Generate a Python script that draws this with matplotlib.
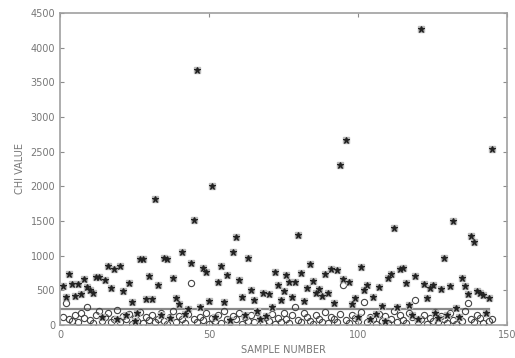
import matplotlib.pyplot as plt

# chi value per sample, statistic 1 (star markers)
star_x = list(range(1, 146))
star_y = [560, 409, 731, 587, 418, 587, 447, 659, 553, 505,
          457, 697, 697, 120, 649, 856, 539, 808, 90, 856,
          491, 150, 601, 337, 60, 180, 948, 948, 375, 707,
          375, 1818, 577, 140, 962, 950, 100, 674, 395, 298,
          1058, 160, 230, 890, 1515, 3680, 264, 827, 769, 346,
          2001, 110, 616, 851, 337, 721, 70, 1058, 1274, 649,
          409, 150, 962, 505, 361, 200, 90, 457, 130, 443,
          264, 769, 577, 361, 491, 721, 625, 409, 616, 1299,
          755, 346, 539, 875, 635, 457, 519, 423, 740, 457,
          808, 322, 798, 2309, 664, 2665, 625, 298, 395, 120,
          837, 505, 577, 80, 409, 160, 553, 274, 60, 674,
          731, 1404, 264, 804, 817, 601, 289, 140, 712, 90,
          4270, 587, 395, 529, 577, 180, 100, 519, 971, 150,
          567, 1505, 241, 110, 674, 567, 443, 1284, 1202, 491,
          457, 433, 180, 385, 2544]

# statistic 2 (open circles)
circ_x = list(range(1, 146))
circ_y = [120, 317, 90, 60, 150, 40, 180, 100, 264, 70,
          30, 140, 200, 60, 110, 170, 50, 90, 216, 40,
          130, 80, 160, 20, 100, 60, 190, 30, 120, 70,
          150, 40, 90, 170, 60, 20, 110, 200, 50, 130,
          80, 30, 160, 601, 90, 40, 120, 70, 180, 20,
          100, 60, 150, 30, 200, 80, 40, 130, 90, 170,
          20, 110, 60, 140, 40, 190, 80, 30, 120, 60,
          160, 20, 100, 50, 180, 90, 30, 140, 264, 70,
          40, 170, 110, 60, 20, 150, 90, 40, 190, 30,
          120, 80, 50, 160, 577, 70, 30, 140, 100, 60,
          190, 327, 40, 110, 80, 20, 160, 60, 130, 30,
          90, 200, 50, 140, 70, 30, 170, 110, 361, 40,
          80, 150, 20, 100, 60, 190, 40, 130, 90, 30,
          170, 70, 20, 120, 60, 200, 313, 80, 40, 150,
          100, 30, 180, 60, 90]

threshold = 230

gray = '#8c8c8c'
plt.rcParams['font.family'] = 'DejaVu Sans'

fig = plt.figure(figsize=(5.15, 3.58), dpi=100)
ax = fig.add_axes([0.1165, 0.0922, 0.868, 0.8715])

ax.plot([0, 144], [threshold, threshold], '-', color='#8a8a8a', lw=1.6, zorder=1)
ax.plot(circ_x, circ_y, 'o', mfc='none', mec='#444444', ms=4.5, mew=0.8, zorder=2)
ax.plot(star_x, star_y, 's', mfc='#bbbbbb', mec='#bbbbbb', ms=4, zorder=3)
ax.plot(star_x, star_y, '*', color='#222222', ms=5, mew=0.8, zorder=4)

ax.set_xlim(0, 150)
ax.set_ylim(0, 4500)
ax.set_xticks([0, 50, 100, 150])
ax.set_yticks(range(0, 4501, 500))
ax.tick_params(direction='in', top=True, right=True, colors=gray,
               labelcolor='#777777', labelsize=7, length=3, width=0.8)
for s in ax.spines.values():
    s.set_color('#a0a0a0')
    s.set_linewidth(1.2)

ax.set_xlabel('SAMPLE NUMBER', fontsize=7, color='#777777', labelpad=4)
ax.set_ylabel('CHI VALUE', fontsize=7, color='#777777', labelpad=4)

fig.savefig('out.png', dpi=100)
